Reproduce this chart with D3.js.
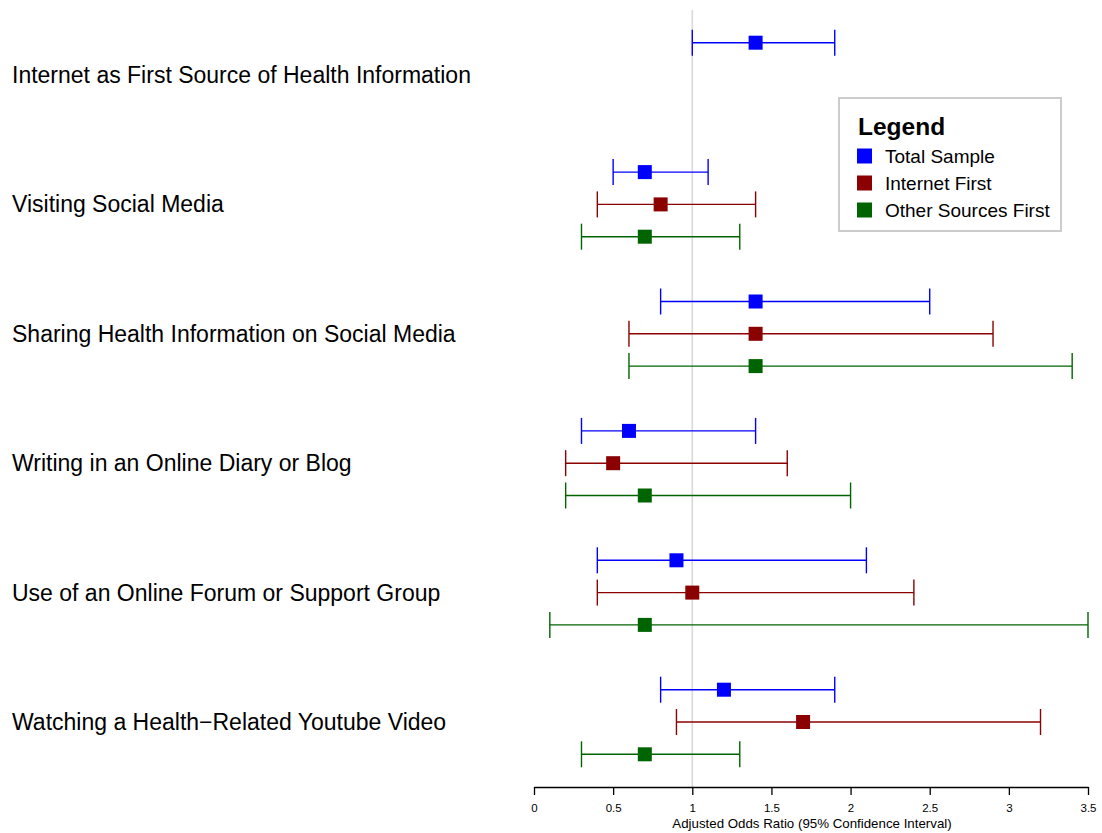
<!DOCTYPE html>
<html>
<head>
<meta charset="utf-8">
<script src="https://cdn.jsdelivr.net/npm/d3@7"></script>
<style>
  html, body { margin: 0; padding: 0; background: #fff; }
  svg { display: block; font-family: "Liberation Sans", Arial, Helvetica, sans-serif; }
</style>
</head>
<body>
<svg id="chart" width="1102" height="833"></svg>
<script>
// Outcomes (rows, top to bottom)
const categories = [
  "Internet as First Source of Health Information",
  "Visiting Social Media",
  "Sharing Health Information on Social Media",
  "Writing in an Online Diary or Blog",
  "Use of an Online Forum or Support Group",
  "Watching a Health\u2212Related Youtube Video"
];

// Sample groups
const seriesNames = ["Total Sample", "Internet First", "Other Sources First"];
const seriesColors = ["#0000ff", "#8b0000", "#006400"];

// Adjusted odds ratios and 95% CI per group (null = not estimated)
const totalOR    = [1.4, 0.7, 1.4, 0.6, 0.9, 1.2];
const totalLow   = [1.0, 0.5, 0.8, 0.3, 0.4, 0.8];
const totalHigh  = [1.9, 1.1, 2.5, 1.4, 2.1, 1.9];

const internetOR   = [null, 0.8, 1.4, 0.5, 1.0, 1.7];
const internetLow  = [null, 0.4, 0.6, 0.2, 0.4, 0.9];
const internetHigh = [null, 1.4, 2.9, 1.6, 2.4, 3.2];

const otherOR   = [null, 0.7, 1.4, 0.7, 0.7, 0.7];
const otherLow  = [null, 0.3, 0.6, 0.2, 0.1, 0.3];
const otherHigh = [null, 1.3, 3.4, 2.0, 3.5, 1.3];

const xTicks = [0, 0.5, 1, 1.5, 2, 2.5, 3, 3.5];
const xTitle = "Adjusted Odds Ratio (95% Confidence Interval)";

const seriesData = [
  { or: totalOR, low: totalLow, high: totalHigh },
  { or: internetOR, low: internetLow, high: internetHigh },
  { or: otherOR, low: otherLow, high: otherHigh }
];

const points = [];
seriesData.forEach((s, si) => {
  categories.forEach((c, ci) => {
    if (s.or[ci] != null) {
      points.push({ cat: c, series: seriesNames[si], color: seriesColors[si],
                    or: s.or[ci], low: s.low[ci], high: s.high[ci] });
    }
  });
});

const svg = d3.select("#chart");

const x = d3.scaleLinear().domain([0, 3.5]).range([534, 1088]);
const y = d3.scalePoint().domain(categories).range([75, 722]);
const yOff = d3.scalePoint().domain(seriesNames).range([-32.3, 32.3]);
const axisY = 787;

// reference line at OR = 1
svg.append("line")
  .attr("x1", x(1)).attr("x2", x(1))
  .attr("y1", 10).attr("y2", axisY)
  .attr("stroke", "#d9d9d9").attr("stroke-width", 1.6);

// category labels
svg.append("g").selectAll("text")
  .data(categories)
  .join("text")
  .attr("x", 12)
  .attr("y", d => y(d))
  .attr("dy", "0.35em")
  .attr("font-size", 23)
  .attr("fill", "#000")
  .text(d => d);

// confidence intervals
const capH = 13;
const g = svg.append("g").selectAll("g")
  .data(points)
  .join("g")
  .attr("transform", d => `translate(0,${y(d.cat) + yOff(d.series)})`);

g.append("line")
  .attr("x1", d => x(d.low)).attr("x2", d => x(d.high))
  .attr("y1", 0).attr("y2", 0)
  .attr("stroke", d => d.color).attr("stroke-width", 1.4);
g.append("line")
  .attr("x1", d => x(d.low)).attr("x2", d => x(d.low))
  .attr("y1", -capH).attr("y2", capH)
  .attr("stroke", d => d.color).attr("stroke-width", 1.4);
g.append("line")
  .attr("x1", d => x(d.high)).attr("x2", d => x(d.high))
  .attr("y1", -capH).attr("y2", capH)
  .attr("stroke", d => d.color).attr("stroke-width", 1.4);
g.append("rect")
  .attr("x", d => x(d.or) - 7).attr("y", -7)
  .attr("width", 14).attr("height", 14)
  .attr("fill", d => d.color);

// x axis
const axis = svg.append("g")
  .attr("transform", `translate(0,${axisY})`)
  .call(d3.axisBottom(x).tickValues(xTicks).tickSize(8).tickSizeOuter(0)
        .tickFormat(d3.format("")));
axis.select(".domain").attr("stroke", "#000").attr("stroke-width", 1.3);
axis.selectAll(".tick line").attr("stroke", "#000").attr("stroke-width", 1.3);
axis.selectAll(".tick text")
  .attr("y", 17).attr("font-size", 11.5)
  .attr("font-family", "Liberation Sans, Arial, sans-serif").attr("fill", "#000");

svg.append("text")
  .attr("x", (x(0) + x(3.5)) / 2 + 1)
  .attr("y", 828)
  .attr("text-anchor", "middle")
  .attr("font-size", 13.3)
  .attr("fill", "#000")
  .text(xTitle);

// legend
const lg = svg.append("g");
lg.append("rect")
  .attr("x", 839).attr("y", 98)
  .attr("width", 222).attr("height", 133)
  .attr("fill", "#fff").attr("stroke", "#cccccc").attr("stroke-width", 2);
lg.append("text")
  .attr("x", 858).attr("y", 135)
  .attr("font-size", 24.5).attr("font-weight", "bold")
  .text("Legend");
const items = lg.selectAll("g.item")
  .data(seriesNames)
  .join("g")
  .attr("class", "item")
  .attr("transform", (d, i) => `translate(857,${156 + i * 27})`);
items.append("rect")
  .attr("x", 0).attr("y", -7.5)
  .attr("width", 15).attr("height", 15)
  .attr("fill", (d, i) => seriesColors[i]);
items.append("text")
  .attr("x", 28).attr("y", 0).attr("dy", "0.35em")
  .attr("font-size", 19)
  .text(d => d);
</script>
</body>
</html>
